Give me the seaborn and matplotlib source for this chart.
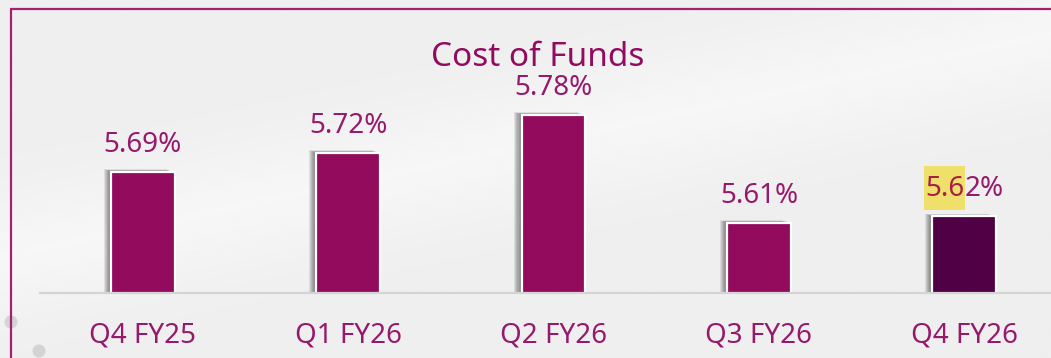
import numpy as np
import matplotlib
matplotlib.use("Agg")
import matplotlib.pyplot as plt
import matplotlib.patheffects as pe
from matplotlib.lines import Line2D
from matplotlib.patches import Ellipse, Rectangle
import seaborn as sns

# Data
quarters = ["Q4 FY25", "Q1 FY26", "Q2 FY26", "Q3 FY26", "Q4 FY26"]
cost_of_funds = [5.69, 5.72, 5.78, 5.61, 5.62]
title = "Cost of Funds"

BAR = "#930b5d"
BAR_LATEST = "#500045"
TEXT = "#961a6b"
TITLE = "#920b5f"
FRAME = "#a3226f"
HIGHLIGHT = "#eee06a"
HIGHLIGHT_TEXT = "#a81f45"

sns.set_theme(style="white")
plt.rcParams["font.family"] = ["Noto Sans", "DejaVu Sans"]

W, H = 1051, 358
fig = plt.figure(figsize=(W / 100, H / 100), dpi=100)
fig.patch.set_facecolor("#f1f1f1")

# soft diagonal sheen across the background
bg = fig.add_axes([0, 0, 1, 1], zorder=-10)
yy, xx = np.mgrid[0:1:200j, 0:1:600j]
band = np.exp(-((xx * 1.0 + yy * 1.6 - 1.15) ** 2) / 0.08)
img = 0.935 + 0.03 * band
bg.imshow(img, cmap="gray", vmin=0, vmax=1, aspect="auto", extent=[0, 1, 0, 1])
bg.set_axis_off()

ax = fig.add_axes([40 / W, 65.5 / H, 1 - 40 / W, (293 - 9) / H])
ax.patch.set_alpha(0)

palette = [BAR] * (len(quarters) - 1) + [BAR_LATEST]
sns.barplot(x=quarters, y=cost_of_funds, hue=quarters, palette=palette,
            legend=False, width=0.31, edgecolor="white", linewidth=1.6,
            saturation=1, ax=ax)

# blurred drop shadow on the left side of each bar
shadow = [pe.SimplePatchShadow(offset=(-0.75 * k, 0.25 * k), shadow_rgbFace="#000000",
                               alpha=0.085) for k in range(7, 0, -1)]
for bar in ax.patches:
    bar.set_path_effects(shadow + [pe.Normal()])

ax.set_ylim(5.50, 5.50 + (293 - 9) / 635)
ax.set_xlim(-0.5, -0.5 + (W - 40) / 205.4)

for s in ["top", "right", "left"]:
    ax.spines[s].set_visible(False)
ax.spines["bottom"].set_color("#d4d4d4")
ax.spines["bottom"].set_linewidth(1.6)
ax.set_yticks([])
ax.tick_params(axis="x", length=0, pad=21, labelsize=20, labelcolor=TEXT)
ax.set_xlabel("")
ax.set_ylabel("")

# value labels; the latest one has its leading digits highlighted
LIFT = 14.4
for i, v in enumerate(cost_of_funds[:-1]):
    ax.annotate(f"{v:.2f}%", xy=(i, v), xytext=(0, LIFT), textcoords="offset points",
                ha="center", va="baseline", fontsize=20, color=TEXT, zorder=5)

last_i = len(cost_of_funds) - 1
last_v = cost_of_funds[-1]
last_txt = f"{last_v:.2f}%"
lead, tail = last_txt[:3], last_txt[3:]
t_lead = ax.annotate(lead, xy=(last_i, last_v), xytext=(0, LIFT),
                     textcoords="offset points", ha="center", va="baseline",
                     fontsize=20, color=HIGHLIGHT_TEXT, zorder=6)
t_tail = ax.annotate(tail, xy=(1, 0), xycoords=t_lead, ha="left", va="bottom",
                     fontsize=20, color=TEXT, zorder=6)
fig.canvas.draw()
r = fig.canvas.get_renderer()
w_tail = t_tail.get_window_extent(r).width
t_lead.xyann = (-w_tail / 2 * 72 / fig.dpi, LIFT)
fig.canvas.draw()

# marker-pen highlight behind the leading digits
ext = t_lead.get_window_extent(r)
base_y = ax.transData.transform((last_i, last_v))[1] + LIFT * fig.dpi / 72
x0, x1 = ext.x0 - 1, ext.x1 + 1
y0, y1 = base_y - 14, base_y + 30
ax.add_patch(Rectangle((x0 / W, y0 / H), (x1 - x0) / W, (y1 - y0) / H,
                       transform=fig.transFigure, fc=HIGHLIGHT, ec="none",
                       zorder=4, clip_on=False))

fig.text(538 / W, (H - 66) / H, title, ha="center", va="baseline",
         fontsize=24, color=TITLE)

# slide frame
fig.add_artist(Line2D([11 / W, 11 / W], [0, (H - 9) / H], color=FRAME, lw=1.6))
fig.add_artist(Line2D([11 / W, 1], [(H - 9) / H, (H - 9) / H], color=FRAME, lw=1.6))

# decorative dots at the lower left
for cx, cy in [(11, 322), (39, 351)]:
    fig.add_artist(Ellipse((cx / W, (H - cy) / H), 13 / W, 13 / H,
                           transform=fig.transFigure, fc="#cdcdcd", ec="none",
                           alpha=0.8, zorder=-5))

fig.savefig("out.png", dpi=100, facecolor=fig.get_facecolor())
